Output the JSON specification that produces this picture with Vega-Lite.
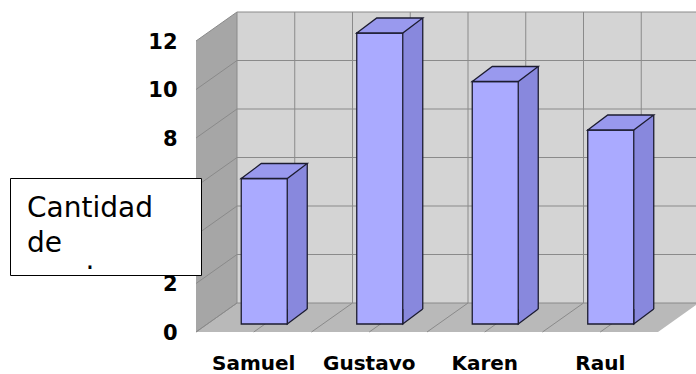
{
  "$schema": "https://vega.github.io/schema/vega-lite/v6.json",
  "width": 462,
  "height": 291,
  "autosize": {"type": "none"},
  "padding": {"left": 196, "top": 41, "right": 38, "bottom": 42},
  "background": "white",
  "config": {"view": {"stroke": null}, "font": "DejaVu Sans"},
  "data": {"values": [
    {"name": "Samuel", "value": 6},
    {"name": "Gustavo", "value": 12},
    {"name": "Karen", "value": 10},
    {"name": "Raul", "value": 8}
  ]},
  "datasets": {
    "ticks": [{"v": 0}, {"v": 2}, {"v": 4}, {"v": 6}, {"v": 8}, {"v": 10}, {"v": 12}],
    "walls": [{"surface": "pared"}]
  },
  "layer": [
    {
      "data": {"name": "walls"},
      "mark": {"type": "point", "shape": "M41,-29 L503,-29 L503,-320 L41,-320 Z", "size": 4, "filled": true, "opacity": 1, "fill": "#d4d4d4", "strokeWidth": 0},
      "encoding": {
        "x": {"datum": "Samuel", "type": "nominal", "bandPosition": 0,
          "scale": {"type": "band", "domain": ["Samuel", "Gustavo", "Karen", "Raul"], "paddingInner": 0, "paddingOuter": 0},
          "axis": {"title": null, "domain": false, "ticks": false, "grid": false, "labelFont": "DejaVu Sans", "labelFontSize": 20, "labelFontWeight": "bold", "labelColor": "black", "labelPadding": 21, "labelAngle": 0, "zindex": 0}},
        "y": {"datum": 0, "type": "quantitative",
          "scale": {"type": "linear", "domain": [0, 12], "nice": false, "zero": true},
          "axis": {"title": null, "values": [0, 2, 4, 6, 8, 10, 12], "domain": false, "ticks": false, "grid": false, "labelFont": "DejaVu Sans", "labelFontSize": 21, "labelFontWeight": "bold", "labelColor": "black", "labelPadding": 19, "labelOffset": 1, "zindex": 0}}
      }
    },
    {
      "data": {"name": "walls"},
      "mark": {"type": "point", "shape": "M0,0 L41,-29 L41,-320 L0,-291 Z", "size": 4, "filled": true, "opacity": 1, "fill": "#a6a6a6", "strokeWidth": 0},
      "encoding": {
        "x": {"datum": "Samuel", "type": "nominal", "bandPosition": 0},
        "y": {"datum": 0, "type": "quantitative"}
      }
    },
    {
      "data": {"name": "walls"},
      "mark": {"type": "point", "shape": "M0,0 L462,0 L503,-29 L41,-29 Z", "size": 4, "filled": true, "opacity": 1, "fill": "#b9b9b9", "strokeWidth": 0},
      "encoding": {
        "x": {"datum": "Samuel", "type": "nominal", "bandPosition": 0},
        "y": {"datum": 0, "type": "quantitative"}
      }
    },
    {
      "data": {"name": "ticks"},
      "mark": {"type": "point", "shape": "M0,0 L41,-29 L503,-29", "size": 4, "filled": false, "opacity": 1, "stroke": "#8a8a8a", "strokeWidth": 1},
      "encoding": {
        "x": {"datum": "Samuel", "type": "nominal", "bandPosition": 0},
        "y": {"field": "v", "type": "quantitative"}
      }
    },
    {
      "mark": {"type": "point", "shape": "M0,0 L41,-29 L41,-320", "size": 4, "filled": false, "opacity": 1, "stroke": "#8a8a8a", "strokeWidth": 1},
      "encoding": {
        "x": {"field": "name", "type": "nominal", "bandPosition": 0},
        "y": {"datum": 0, "type": "quantitative"}
      }
    },
    {
      "mark": {"type": "point", "shape": "M0,0 L41,-29 L41,-320", "size": 4, "filled": false, "opacity": 1, "stroke": "#8a8a8a", "strokeWidth": 1},
      "encoding": {
        "x": {"field": "name", "type": "nominal", "bandPosition": 0.5},
        "y": {"datum": 0, "type": "quantitative"}
      }
    },
    {
      "mark": {"type": "bar", "width": 20, "xOffset": 43.5, "yOffset": -23, "y2Offset": -23, "fill": "#8888dd", "strokeWidth": 0},
      "encoding": {
        "x": {"field": "name", "type": "nominal"},
        "y": {"field": "value", "type": "quantitative"}
      }
    },
    {
      "mark": {"type": "point", "shape": "M0,-15 L0,0 L20,-15", "size": 4, "filled": true, "opacity": 1, "fill": "#8888dd", "stroke": "#1c1c30", "strokeWidth": 1.3, "xOffset": 33.5, "yOffset": -8},
      "encoding": {
        "x": {"field": "name", "type": "nominal"},
        "y": {"datum": 0, "type": "quantitative"}
      }
    },
    {
      "mark": {"type": "rule", "xOffset": 53.5, "yOffset": -23, "y2Offset": -23, "stroke": "#1c1c30", "strokeWidth": 1.3},
      "encoding": {
        "x": {"field": "name", "type": "nominal"},
        "y": {"field": "value", "type": "quantitative"},
        "y2": {"datum": 0}
      }
    },
    {
      "mark": {"type": "bar", "width": 46, "xOffset": 10.5, "yOffset": -8, "y2Offset": -8, "stroke": "#1c1c30", "strokeWidth": 1.3, "opacity": 1},
      "encoding": {
        "x": {"field": "name", "type": "nominal"},
        "y": {"field": "value", "type": "quantitative"},
        "color": {"datum": "Cantidad de", "type": "nominal",
          "scale": {"range": ["#aaaaff"]},
          "legend": {
            "orient": "none", "legendX": -186, "legendY": 137,
            "title": ["Cantidad", "de"],
            "titleFont": "DejaVu Sans", "titleFontSize": 28, "titleFontWeight": "normal", "titleColor": "black", "titleLineHeight": 35, "titleLimit": 400,
            "titlePadding": -24,
            "padding": 17,
            "fillColor": "white", "strokeColor": "black",
            "symbolType": "square", "symbolOpacity": 0, "symbolSize": 0, "symbolStrokeWidth": 0,
            "labelExpr": "''",
            "labelFont": "DejaVu Sans", "labelFontSize": 28, "labelColor": "black", "labelBaseline": "alphabetic", "labelLimit": 300, "labelOffset": 129,
            "zindex": 1
          }}
      }
    },
    {
      "mark": {"type": "point", "size": 4, "filled": true, "opacity": 1, "fill": "#9999ee", "stroke": "#1c1c30", "strokeWidth": 1.3, "xOffset": -12.5, "yOffset": -8},
      "encoding": {
        "x": {"field": "name", "type": "nominal"},
        "y": {"field": "value", "type": "quantitative"},
        "shape": {"datum": ".", "type": "nominal",
          "scale": {"range": ["M0,0 L20,-15 L66,-15 L46,0 Z"]},
          "legend": {
            "orient": "none", "legendX": -138.5, "legendY": 214,
            "title": null,
            "padding": 0,
            "symbolType": "square", "symbolOpacity": 0, "symbolSize": 0, "symbolStrokeWidth": 0,
            "labelFont": "DejaVu Sans", "labelFontSize": 28, "labelColor": "black", "labelBaseline": "alphabetic", "labelOffset": 0,
            "zindex": 2
          }}
      }
    }
  ]
}
